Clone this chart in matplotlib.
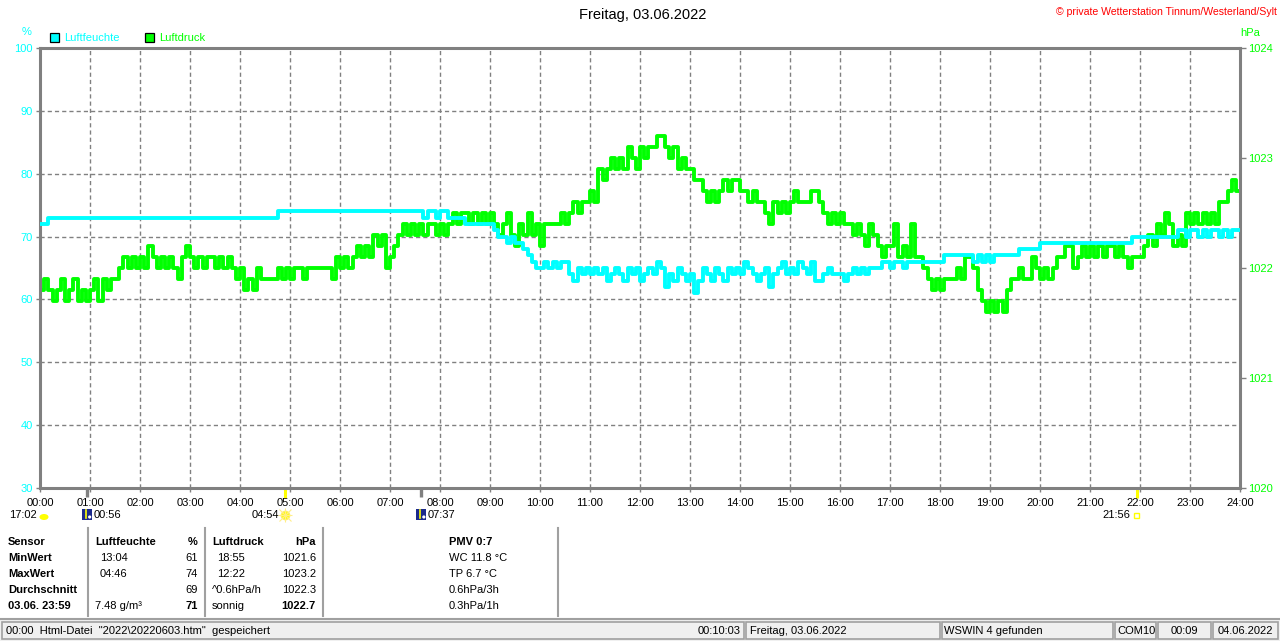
import numpy as np
import matplotlib
matplotlib.use("Agg")
import matplotlib.pyplot as plt
from matplotlib.patches import Rectangle, Circle, Ellipse

plt.rcParams['font.family'] = ['Liberation Sans', 'DejaVu Sans']

# Luftfeuchte in %, 5-minute readings, one row per hour
hum_rows = [
    [72, 72, 73, 73, 73, 73, 73, 73, 73, 73, 73, 73],
    [73, 73, 73, 73, 73, 73, 73, 73, 73, 73, 73, 73],
    [73, 73, 73, 73, 73, 73, 73, 73, 73, 73, 73, 73],
    [73, 73, 73, 73, 73, 73, 73, 73, 73, 73, 73, 73],
    [73, 73, 73, 73, 73, 73, 73, 73, 73, 74, 74, 74],
    [74, 74, 74, 74, 74, 74, 74, 74, 74, 74, 74, 74],
    [74, 74, 74, 74, 74, 74, 74, 74, 74, 74, 74, 74],
    [74, 74, 74, 74, 74, 74, 74, 74, 73, 74, 74, 73],
    [74, 74, 73, 73, 73, 73, 72, 72, 72, 72, 72, 72],
    [72, 71, 70, 70, 69, 70, 69, 69, 68, 67, 66, 65],
    [65, 66, 65, 66, 65, 66, 66, 64, 63, 65, 64, 65],
    [64, 65, 64, 65, 63, 64, 65, 64, 63, 65, 64, 65],
    [63, 64, 65, 64, 66, 65, 62, 64, 63, 65, 64, 63],
    [64, 61, 63, 65, 64, 63, 65, 64, 63, 65, 64, 65],
    [64, 66, 65, 64, 63, 64, 65, 62, 64, 65, 66, 64],
    [65, 64, 66, 65, 64, 66, 63, 63, 64, 65, 64, 64],
    [64, 63, 64, 65, 64, 65, 64, 65, 65, 65, 66, 66],
    [65, 66, 66, 65, 66, 66, 66, 66, 66, 66, 66, 66],
    [66, 67, 67, 67, 67, 67, 67, 67, 66, 67, 66, 67],
    [66, 67, 67, 67, 67, 67, 67, 68, 68, 68, 68, 68],
    [69, 69, 69, 69, 69, 69, 69, 69, 69, 69, 69, 69],
    [69, 69, 69, 69, 69, 69, 69, 69, 69, 69, 70, 70],
    [70, 70, 70, 70, 70, 70, 70, 70, 70, 71, 71, 70],
    [71, 71, 70, 71, 70, 71, 71, 70, 71, 70, 71, 71],
]
hum_end = 71

# Luftdruck in hPa, 5-minute readings, one row per hour
press_rows = [
    [1021.8, 1021.9, 1021.8, 1021.7, 1021.8, 1021.9, 1021.7, 1021.8, 1021.9, 1021.7, 1021.8, 1021.7],
    [1021.8, 1021.9, 1021.7, 1021.9, 1021.8, 1021.9, 1021.9, 1022.0, 1022.1, 1022.0, 1022.1, 1022.0],
    [1022.1, 1022.0, 1022.2, 1022.1, 1022.0, 1022.1, 1022.0, 1022.1, 1022.0, 1021.9, 1022.1, 1022.2],
    [1022.1, 1022.0, 1022.1, 1022.0, 1022.1, 1022.1, 1022.0, 1022.1, 1022.0, 1022.1, 1022.0, 1021.9],
    [1022.0, 1021.8, 1021.9, 1021.8, 1022.0, 1021.9, 1021.9, 1021.9, 1021.9, 1022.0, 1021.9, 1022.0],
    [1021.9, 1022.0, 1022.0, 1021.9, 1022.0, 1022.0, 1022.0, 1022.0, 1022.0, 1022.0, 1021.9, 1022.1],
    [1022.0, 1022.1, 1022.0, 1022.1, 1022.2, 1022.1, 1022.2, 1022.1, 1022.3, 1022.2, 1022.3, 1022.0],
    [1022.1, 1022.2, 1022.3, 1022.4, 1022.3, 1022.4, 1022.3, 1022.4, 1022.3, 1022.4, 1022.4, 1022.3],
    [1022.4, 1022.3, 1022.4, 1022.5, 1022.4, 1022.5, 1022.5, 1022.4, 1022.5, 1022.4, 1022.5, 1022.4],
    [1022.5, 1022.4, 1022.3, 1022.4, 1022.5, 1022.3, 1022.2, 1022.4, 1022.3, 1022.5, 1022.3, 1022.4],
    [1022.2, 1022.4, 1022.4, 1022.4, 1022.4, 1022.5, 1022.4, 1022.5, 1022.6, 1022.5, 1022.6, 1022.6],
    [1022.7, 1022.6, 1022.9, 1022.8, 1022.9, 1023.0, 1022.9, 1023.0, 1022.9, 1023.1, 1023.0, 1022.9],
    [1023.1, 1023.0, 1023.1, 1023.1, 1023.2, 1023.2, 1023.1, 1023.0, 1023.1, 1022.9, 1023.0, 1022.9],
    [1022.9, 1022.8, 1022.8, 1022.7, 1022.6, 1022.7, 1022.6, 1022.7, 1022.8, 1022.7, 1022.8, 1022.8],
    [1022.7, 1022.7, 1022.6, 1022.7, 1022.6, 1022.6, 1022.5, 1022.4, 1022.6, 1022.5, 1022.6, 1022.5],
    [1022.6, 1022.7, 1022.6, 1022.6, 1022.6, 1022.7, 1022.7, 1022.6, 1022.5, 1022.4, 1022.5, 1022.4],
    [1022.5, 1022.4, 1022.4, 1022.3, 1022.4, 1022.3, 1022.2, 1022.4, 1022.3, 1022.2, 1022.1, 1022.2],
    [1022.2, 1022.4, 1022.1, 1022.2, 1022.1, 1022.4, 1022.1, 1022.1, 1022.0, 1021.9, 1021.8, 1021.9],
    [1021.8, 1021.9, 1021.9, 1021.9, 1022.0, 1021.9, 1022.1, 1022.1, 1022.0, 1021.8, 1021.7, 1021.6],
    [1021.7, 1021.6, 1021.7, 1021.6, 1021.8, 1021.9, 1021.9, 1022.0, 1021.9, 1021.9, 1022.1, 1022.0],
    [1021.9, 1022.0, 1021.9, 1022.0, 1022.1, 1022.1, 1022.2, 1022.2, 1022.0, 1022.1, 1022.2, 1022.1],
    [1022.2, 1022.1, 1022.2, 1022.1, 1022.2, 1022.2, 1022.1, 1022.2, 1022.1, 1022.0, 1022.1, 1022.1],
    [1022.1, 1022.2, 1022.3, 1022.2, 1022.4, 1022.3, 1022.5, 1022.4, 1022.2, 1022.3, 1022.2, 1022.5],
    [1022.4, 1022.5, 1022.4, 1022.5, 1022.4, 1022.5, 1022.4, 1022.6, 1022.6, 1022.7, 1022.8, 1022.7],
]
press_end = 1022.7

hour_ticks = list(range(25))
hour_labels = ["%02d:00" % h for h in hour_ticks]
hum_ticks = [30, 40, 50, 60, 70, 80, 90, 100]
press_ticks = [1020, 1021, 1022, 1023, 1024]

# Mond- und Sonnenzeiten (Stunden), Beschriftung
moon_times = [56 / 60, 7 + 37 / 60]
moon_labels = ["00:56", "07:37"]
sun_times = [4 + 54 / 60, 21 + 56 / 60]
sun_labels = ["04:54", "21:56"]
sunset_label = "17:02"

table_rows = [
    ["Sensor", "Luftfeuchte", "%", "Luftdruck", "hPa", "PMV 0:7"],
    ["MinWert", "13:04", "61", "18:55", "1021.6", "WC 11.8 °C"],
    ["MaxWert", "04:46", "74", "12:22", "1023.2", "TP 6.7 °C"],
    ["Durchschnitt", "", "69", "^0.6hPa/h", "1022.3", "0.6hPa/3h"],
    ["03.06. 23:59", "7.48 g/m³", "71", "sonnig", "1022.7", "0.3hPa/1h"],
]

status_texts = ['00:00  Html-Datei  "2022\\20220603.htm"  gespeichert', "00:10:03",
                "Freitag, 03.06.2022", "WSWIN 4 gefunden", "COM10", "00:09", "04.06.2022"]

CYAN = "#00ffff"
GREEN = "#00ff00"
GRAY = "#808080"
FS = 8.0

hum = np.concatenate([np.array(r, float) for r in hum_rows] + [[hum_end]])
press = np.concatenate([np.array(r, float) for r in press_rows] + [[press_end]])
t = np.arange(len(hum)) / 12.0

W, H = 1280, 641
fig = plt.figure(figsize=(12.8, 6.41), dpi=100)
fig.patch.set_facecolor("white")

bg = fig.add_axes([0, 0, 1, 1], zorder=-5)
bg.set_xlim(0, W)
bg.set_ylim(H, 0)
bg.axis("off")

rect = [40 / W, 1 - 488 / H, 1200 / W, 440 / H]
ax2 = fig.add_axes(rect, zorder=1)
ax = fig.add_axes(rect, zorder=2)
ax.patch.set_visible(False)

for a in (ax, ax2):
    a.set_xlim(0, 24)
ax.set_ylim(30, 100)
ax2.set_ylim(1020, 1024)

# grid drawn in the lower axes so the curves sit on top
for h in hour_ticks[1:-1]:
    ax2.axvline(h, color=GRAY, lw=1, ls=(0, (3, 2.2)), zorder=0)
ax2.hlines(hum_ticks[1:-1], 0, 24, transform=ax.transData, color=GRAY, lw=1,
           linestyles=[(0, (3, 2.2))], zorder=0)

ax2.plot(t, press, color=GREEN, lw=2.8, drawstyle="steps-post", zorder=3)
ax.plot(t, hum, color=CYAN, lw=2.8, drawstyle="steps-post", zorder=3)

for s in ax2.spines.values():
    s.set_visible(False)
for s in ax.spines.values():
    s.set_color(GRAY)
    s.set_linewidth(2.2)

ax.set_xticks(hour_ticks)
ax.set_xticklabels(hour_labels)
ax.set_yticks(hum_ticks)
ax.set_yticklabels([str(v) for v in hum_ticks])
ax.tick_params(axis="x", color=GRAY, labelcolor="black", length=3, width=1, pad=4, labelsize=FS)
ax.tick_params(axis="y", color=GRAY, labelcolor=CYAN, length=3, width=1, pad=2, labelsize=FS)

ax2.set_xticks([])
ax2.yaxis.tick_right()
ax2.set_yticks(press_ticks)
ax2.set_yticklabels([str(v) for v in press_ticks])
ax2.tick_params(axis="y", color=GRAY, labelcolor=GREEN, length=4, width=1, pad=2, labelsize=FS)


def hour_px(h):
    disp = ax.transData.transform((h, 30))
    return bg.transData.inverted().transform(disp)[0]


# header
bg.text(643, 15, "Freitag, 03.06.2022", fontsize=10.5, ha="center", va="center")
bg.text(1277, 12, "© private Wetterstation Tinnum/Westerland/Sylt", fontsize=7.6, color="red",
        ha="right", va="center")
bg.text(27, 32, "%", fontsize=FS, color=CYAN, ha="center", va="center")
bg.text(1240, 33, "hPa", fontsize=FS, color=GREEN, ha="left", va="center")
bg.add_patch(Rectangle((50, 33), 9, 9, facecolor=CYAN, edgecolor="black", lw=0.9))
bg.text(64, 38, "Luftfeuchte", fontsize=FS, color=CYAN, va="center")
bg.add_patch(Rectangle((145, 33), 9, 9, facecolor=GREEN, edgecolor="black", lw=0.9))
bg.text(159, 38, "Luftdruck", fontsize=FS, color=GREEN, va="center")

EV_Y = 515
# moon / sun markers below the time axis
for tm, lab in zip(moon_times, moon_labels):
    x = hour_px(tm)
    bg.plot([x, x], [484, 497], color=GRAY, lw=2.4, solid_capstyle="butt", zorder=10)
    bg.add_patch(Rectangle((x - 5, 509), 10, 11, facecolor="#1c2a8c", edgecolor="none"))
    bg.plot([x - 1, x - 1], [510, 518], color="yellow", lw=1.2)
    bg.add_patch(Circle((x + 3, 517), 1.6, facecolor="white", edgecolor="none"))
    bg.text(x + 7, EV_Y, lab, fontsize=FS, ha="left", va="center")

for tm, lab in zip(sun_times, sun_labels):
    x = hour_px(tm)
    bg.plot([x, x], [483, 498], color="yellow", lw=2.2, solid_capstyle="butt", zorder=10)
    bg.text(x - 6, EV_Y, lab, fontsize=FS, ha="right", va="center")
sx = hour_px(sun_times[0])
bg.plot([sx], [EV_Y], marker="o", ms=6, color="yellow", mec="#ffee66")
bg.plot([sx], [EV_Y], marker="+", ms=10, color="#ffee88", mew=0.8)
bg.plot([sx], [EV_Y], marker="x", ms=8, color="#ffee88", mew=0.8)
ex = hour_px(sun_times[1])
bg.add_patch(Rectangle((ex - 2.5, EV_Y - 2.5), 5, 5, facecolor="none", edgecolor="yellow", lw=1))

x0 = hour_px(0)
bg.text(x0 - 3, EV_Y, sunset_label, fontsize=FS, ha="right", va="center")
bg.add_patch(Ellipse((x0 + 4, EV_Y + 2), 9, 6, facecolor="yellow", edgecolor="none"))

# data table
col_x = [8, 100, 198, 217, 316, 449]
col_ha = ["left", "left", "right", "left", "right", "left"]
row_y = [542, 558, 574, 590, 606]
for r, (row, y) in enumerate(zip(table_rows, row_y)):
    for c, txt in enumerate(row):
        x = col_x[c]
        if c == 1 and r in (0, 4):
            x = 95
        if c == 3 and r in (0, 3, 4):
            x = 212
        bold = r == 0 or c == 0 or (r == 4 and c in (2, 4))
        bg.text(x, y, txt, fontsize=FS, ha=col_ha[c], va="center",
                fontweight="bold" if bold else "normal")
for x in [88, 205, 323, 558]:
    bg.plot([x, x], [528, 616], color="#a0a0a0", lw=1.5)

# status bar
bg.add_patch(Rectangle((0, 619), W, 22, facecolor="#f0f0f0", edgecolor="none"))
bg.plot([0, W], [619, 619], color="#a0a0a0", lw=1.5)
panels = [(2, 744), (746, 940), (942, 1113), (1115, 1156), (1158, 1211), (1213, 1278)]
for p0, p1 in panels:
    bg.add_patch(Rectangle((p0, 622), p1 - p0, 17, facecolor="none", edgecolor="#a0a0a0", lw=1.2))
bg.text(6, 631, status_texts[0], fontsize=FS, va="center")
bg.text(741, 631, status_texts[1], fontsize=FS, va="center", ha="right")
bg.text(750, 631, status_texts[2], fontsize=FS, va="center")
bg.text(944, 631, status_texts[3], fontsize=FS, va="center")
bg.text(1117, 631, status_texts[4], fontsize=FS, va="center")
bg.text(1184, 631, status_texts[5], fontsize=FS, va="center", ha="center")
bg.text(1218, 631, status_texts[6], fontsize=FS, va="center")

fig.savefig("out.png", dpi=100)
